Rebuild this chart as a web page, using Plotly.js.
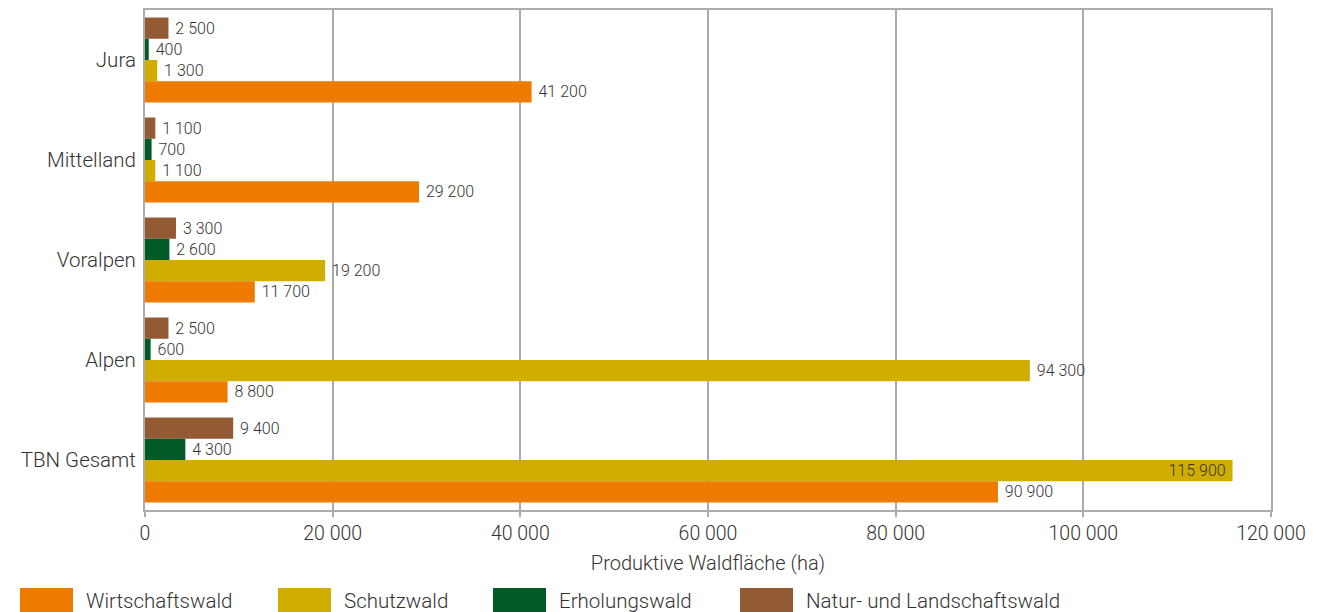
<!DOCTYPE html>
<html><head><meta charset="utf-8">
<script src="https://cdn.plot.ly/plotly-3.0.1.min.js"></script>
<style>body{margin:0;background:#fff}#c{width:1324px;height:612px}</style>
</head><body><div id="c"></div>
<script>
const categories = ["Jura", "Mittelland", "Voralpen", "Alpen", "TBN Gesamt"];
const wirtschaftswald = [41200, 29200, 11700, 8800, 90900];
const schutzwald = [1300, 1100, 19200, 94300, 115900];
const erholungswald = [400, 700, 2600, 600, 4300];
const naturwald = [2500, 1100, 3300, 2500, 9400];
const seriesNames = ["Wirtschaftswald", "Schutzwald", "Erholungswald", "Natur- und Landschaftswald"];
const seriesColors = ["#EE7A00", "#CFAE00", "#005A24", "#925B33"];
const xTicks = [0, 20000, 40000, 60000, 80000, 100000, 120000];

const seriesValues = [wirtschaftswald, schutzwald, erholungswald, naturwald];
const FONT = "Roboto, 'Open Sans', sans-serif";
const lblFont = {family: FONT, size: 16, color: "#333", weight: 300};

const order = [3, 2, 1, 0];
const traces = order.map(i => {
  const inside = seriesValues[i].map(v => v > 110000);
  return {
    type: "bar",
    orientation: "h",
    name: seriesNames[i],
    y: categories,
    x: seriesValues[i],
    marker: {color: seriesColors[i]},
    texttemplate: inside.map(f => f ? "%{x:,}\u00a0" : "\u00a0%{x:,}"),
    textposition: inside.map(f => f ? "inside" : "outside"),
    insidetextanchor: "end",
    constraintext: "none",
    textfont: lblFont,
    insidetextfont: lblFont,
    outsidetextfont: lblFont,
    cliponaxis: false,
    showlegend: false,
    hoverinfo: "x+y"
  };
});

const L = 145, R = 1271, T = 10, B = 510;
const pw = R - L, ph = B - T;
const px = v => (v - L) / pw;
const py = v => (B - v) / ph;
const legendX = [20, 278, 493, 740];
const shapes = [], annotations = [];
seriesNames.forEach((n, i) => {
  shapes.push({type: "rect", xref: "paper", yref: "paper",
    x0: px(legendX[i]), x1: px(legendX[i] + 53), y0: py(612), y1: py(588),
    fillcolor: seriesColors[i], line: {width: 0}});
  annotations.push({xref: "paper", yref: "paper", x: px(legendX[i] + 64), y: py(601),
    xanchor: "left", yanchor: "middle", text: n, showarrow: false,
    font: {family: FONT, size: 20.5, color: "#333", weight: 300}});
});

const layout = {
  width: 1324, height: 612,
  margin: {l: L, r: 1324 - R, t: T, b: 612 - B},
  barmode: "group",
  bargap: 0.15,
  bargroupgap: 0,
  separators: ", ",
  paper_bgcolor: "#fff",
  plot_bgcolor: "#fff",
  font: {family: FONT, color: "#333", weight: 300},
  xaxis: {
    range: [0, 120000],
    tickvals: xTicks,
    tickformat: ",",
    showgrid: true, gridcolor: "#ababab", gridwidth: 2,
    zeroline: false,
    showline: true, linecolor: "#ababab", linewidth: 2, mirror: true,
    ticks: "outside", ticklen: 5, tickcolor: "#ababab", tickwidth: 2,
    tickfont: {family: FONT, size: 19.5, color: "#333", weight: 300},
    title: {text: "Produktive Waldfläche (ha)", standoff: 12,
      font: {family: FONT, size: 20, color: "#333", weight: 300}}
  },
  yaxis: {
    type: "category",
    categoryorder: "array", categoryarray: categories,
    autorange: "reversed",
    showgrid: false,
    showline: true, linecolor: "#ababab", linewidth: 2, mirror: true,
    ticks: "", ticklen: 0,
    ticklabelstandoff: 3,
    tickfont: {family: FONT, size: 20.5, color: "#333", weight: 300}
  },
  shapes: shapes,
  annotations: annotations
};

Plotly.newPlot("c", traces, layout, {displayModeBar: false, staticPlot: true});
</script>
</body></html>
